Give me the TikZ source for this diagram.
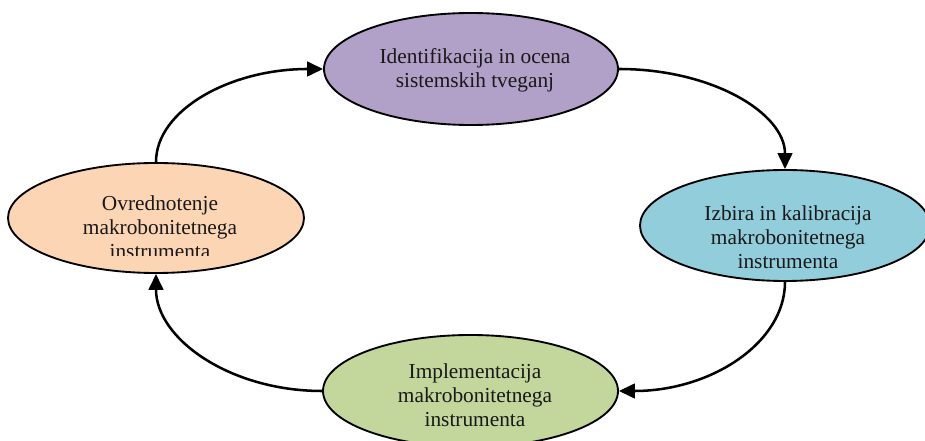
\documentclass[tikz,border=0pt]{standalone}
\usepackage{fontspec}
\setmainfont{Liberation Serif}
\usetikzlibrary{shapes.geometric,arrows.meta}
\definecolor{stagepurple}{HTML}{B1A0C7}
\definecolor{stageblue}{HTML}{92CDDC}
\definecolor{stageorange}{HTML}{FCD5B4}
\definecolor{stagegreen}{HTML}{C3D69B}
\tikzset{
  stage/.style={ellipse, draw=black, line width=1.4pt, inner sep=0pt},
  stagetext/.style={align=center, inner sep=0pt,
    font=\fontsize{16pt}{18pt}\selectfont, text=black!90},
  flow/.style={line width=1.9pt, -{Triangle[length=12pt,width=11pt]}}
}
\begin{document}
\begin{tikzpicture}[x=0.75pt,y=-0.75pt]
\useasboundingbox (0,0) rectangle (925,441);
\clip (0,0) rectangle (925,441);
\fill[white] (0,0) rectangle (925,441);

% the four stages of the cycle
\node[stage, fill=stagepurple, minimum width=294*0.75pt, minimum height=112*0.75pt] (T) at (471,69) {};
\node[stage, fill=stageblue, minimum width=290*0.75pt, minimum height=111*0.75pt] (R) at (785,225.5) {};
\node[stage, fill=stagegreen, minimum width=295*0.75pt, minimum height=112*0.75pt] (B) at (470.5,391) {};
\node[stage, fill=stageorange, minimum width=296*0.75pt, minimum height=110*0.75pt] (L) at (156,218) {};

% stage labels
\node[stagetext] (tT) at (475,70) {Identifikacija in ocena\\sistemskih tveganj};
\node[stagetext] (tR) at (788,237) {Izbira in kalibracija\\makrobonitetnega\\instrumenta};
\node[stagetext] (tB) at (475,395) {Implementacija\\makrobonitetnega\\instrumenta};
\begin{scope}
  \clip (0,150) rectangle (320,255.5);
  \node[stagetext] (tL) at (160,227) {Ovrednotenje\\makrobonitetnega\\instrumenta};
\end{scope}

% cycle connectors: quarter-ellipse arcs between the stages
\draw[flow] (L.north) .. controls +(0,-52) and +(-93,0) .. (T.west);
\draw[flow] (T.east) .. controls +(93,0) and +(0,-56) .. (R.north);
\draw[flow] (R.south) .. controls +(0,61) and +(92,0) .. (B.east);
\draw[flow] (B.west) .. controls +(-92,0) and +(0,65) .. (L.south);
\end{tikzpicture}
\end{document}
